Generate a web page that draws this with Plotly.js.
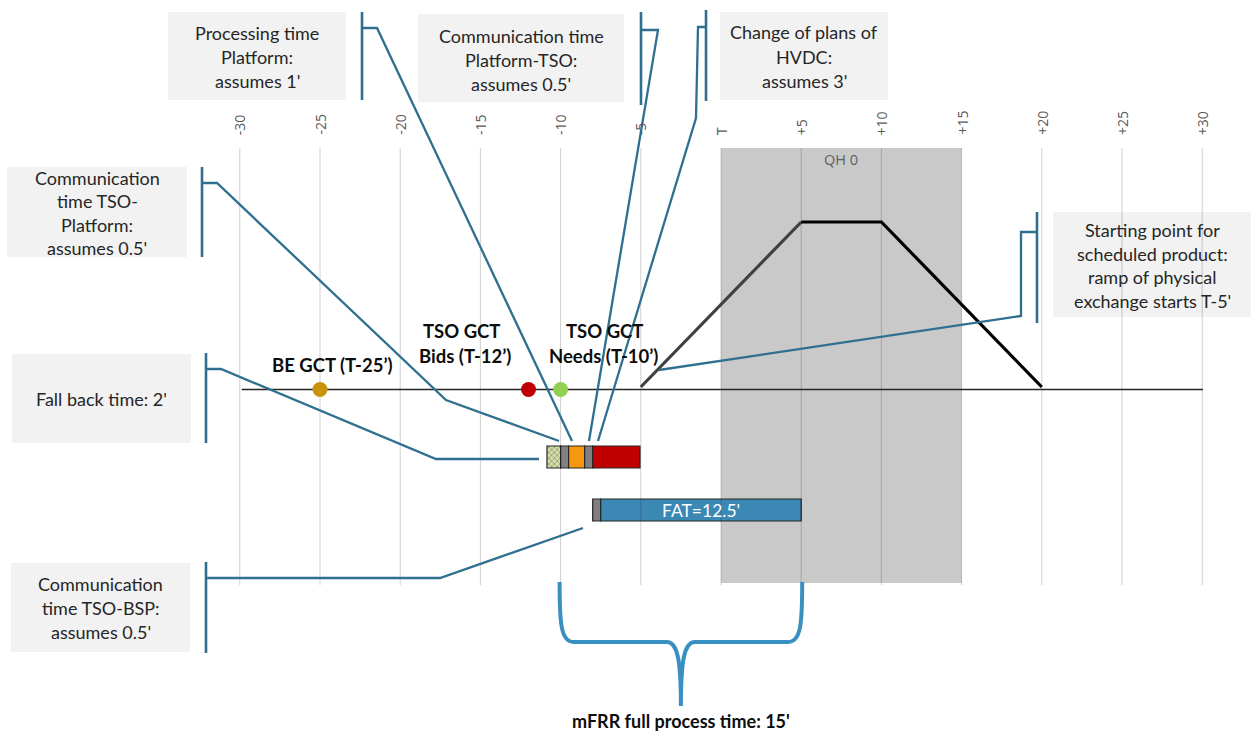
<!DOCTYPE html>
<html><head><meta charset="utf-8">
<script src="https://cdn.plot.ly/plotly-3.0.1.min.js"></script>
<style>html,body{margin:0;padding:0;background:#fff}</style>
</head><body><div id="chart" style="width:1251px;height:733px"></div>
<script>
// ---------------- DATA ----------------
const tickVals = [-30,-25,-20,-15,-10,-5,0,5,10,15,20,25,30];
const tickText = ['-30','-25','-20','-15','-10','-5','T','+5','+10','+15','+20','+25','+30'];

const eventLabels = [['BE GCT (T-25’)'], ['TSO GCT','Bids (T-12’)'], ['TSO GCT','Needs (T-10’)']];
const eventTimes = [-25, -12, -10];
const eventColors = ['#c9940c', '#c00000', '#92d050'];

const stepNames = ['Fall back time', 'Communication TSO-Platform', 'Processing time Platform', 'Communication Platform-TSO', 'Change of plans of HVDC'];
const stepStart = [-10.85, -10, -9.5, -8.5, -8];
const stepEnd   = [-10, -9.5, -8.5, -8, -5.05];
const stepColors = ['#d5e1a6', '#808080', '#f7960f', '#808080', '#c00000'];

const actNames = ['Communication TSO-BSP', "FAT=12.5'"];
const actStart = [-8, -7.5];
const actEnd   = [-7.5, 5];
const actColors = ['#7f7f7f', '#3c88b5'];

const rampTime  = [-5, 5, 10, 20];
const rampLevel = [0, 1, 1, 0];

const qhLabel = 'QH 0';
const qhStart = 0, qhEnd = 15;
const processStart = -10, processEnd = 5;
const processLabel = "mFRR full process time: 15'";

const calloutTexts = [
  ['Processing time', 'Platform:', "assumes 1'"],
  ['Communication time', 'Platform-TSO:', "assumes 0.5'"],
  ['Change of plans of', 'HVDC:', "assumes 3'"],
  ['Communication', 'time TSO-', 'Platform:', "assumes 0.5'"],
  ["Fall back time: 2'"],
  ['Communication', 'time TSO-BSP:', "assumes 0.5'"],
  ['Starting point for', 'scheduled product:', 'ramp of physical', "exchange starts T-5'"]
];

// ---------------- LAYOUT GEOMETRY (pixels) ----------------
const W = 1251, H = 733;
const ZERO_PX = 721, PX_PER_MIN = 16.04;
const GRID_TOP = 148, GRID_BOT = 585;
const BASE_Y = 389.5, RAMP_TOP_Y = 222;
const BAR1_Y = 457, BAR2_Y = 510, BAR_H = 22;

const calloutBoxes = [ // x0,y0,x1,y1, centerY of first line, line step
  {b:[168,12,346,100], cy:33, dy:24},
  {b:[418,14,624,102], cy:36, dy:24},
  {b:[720,12,888,100], cy:32, dy:24.5},
  {b:[7,167,187,257], cy:178, dy:23.3},
  {b:[12,354,191,443], cy:399, dy:24},
  {b:[11,563,190,652], cy:584, dy:24},
  {b:[1053,212,1251,317], cy:230, dy:23.5}
];
const leaders = [
  {bar:[362,12,362,100], path:[[362,28],[377,28],[572,441]]},
  {bar:[641,12,641,105], path:[[641,30],[658,30],[589,441]]},
  {bar:[706,10,706,101], path:[[706,27],[698,27],[696,118],[598,441]]},
  {bar:[202,167,202,257], path:[[202,183],[217,183],[446,400],[559,441]]},
  {bar:[206,353,206,443], path:[[206,369],[221,369],[436,459],[539,459]]},
  {bar:[206,562,206,653], path:[[206,578],[440,578],[583,528]]},
  {bar:[1037,212,1037,323], path:[[1037,232],[1021,232],[1021,316],[659,370]]}
];

// y2 axis range so that level 0 -> just above baseline and level 1 -> RAMP_TOP_Y
const l0 = 387, l1 = RAMP_TOP_Y;
const y2span = H / (l0 - l1);
const y2max = l0 / (l0 - l1);
const y2range = [y2max - y2span, y2max];

const FONT = 'Lato, "Open Sans", sans-serif';
const LEAD = '#2f6f8f';

// ---------------- TRACES ----------------
const traces = [];
traces.push({
  type:'scatter', mode:'lines', hoverinfo:'skip',
  x: tickVals.flatMap(v => [v, v, null]),
  y: tickVals.flatMap(() => [GRID_TOP, GRID_BOT, null]),
  line:{color:'rgba(0,0,0,0.19)', width:1}
});
traces.push({
  type:'scatter', mode:'lines', hoverinfo:'skip',
  x:[tickVals[0]+0.12, tickVals[tickVals.length-1]+0.05], y:[BASE_Y, BASE_Y],
  line:{color:'#262626', width:1.3}
});
traces.push({
  type:'scatter', mode:'lines', yaxis:'y2', hoverinfo:'skip',
  x: rampTime.slice(0,2), y: rampLevel.slice(0,2),
  line:{color:'#404040', width:3.2}
});
traces.push({
  type:'scatter', mode:'lines', yaxis:'y2', hoverinfo:'skip',
  x: rampTime.slice(1), y: rampLevel.slice(1),
  line:{color:'#000000', width:3.2}
});
traces.push({
  type:'scatter', mode:'markers', hoverinfo:'skip',
  x: eventTimes, y: eventTimes.map(() => BASE_Y),
  marker:{size:15, color:eventColors, line:{width:0}}
});
traces.push({
  type:'bar', orientation:'h', hoverinfo:'skip', name:'process',
  y: stepNames.map(() => BAR1_Y), base: stepStart,
  x: stepStart.map((s,i) => stepEnd[i] - s),
  width: stepNames.map(() => BAR_H),
  marker:{color: stepColors, line:{color:'#262626', width:1.2},
    pattern:{shape:['x','','','',''], fgcolor:'#6f7f3f', bgcolor:'#d5e1a6', size:4, solidity:0.35, fillmode:'overlay'}}
});
traces.push({
  type:'bar', orientation:'h', hoverinfo:'skip', name:'activation',
  y: actNames.map(() => BAR2_Y), base: actStart,
  x: actStart.map((s,i) => actEnd[i] - s),
  width: actNames.map(() => BAR_H),
  marker:{color: actColors, line:{color:'#262626', width:1.2}}
});

// ---------------- SHAPES ----------------
const shapes = [];
shapes.push({type:'rect', xref:'x', yref:'y', x0:qhStart, x1:qhEnd, y0:GRID_TOP, y1:583,
  fillcolor:'#c9c9c9', line:{width:0}, layer:'below'});
calloutBoxes.forEach(c => shapes.push({type:'rect', xref:'x2', yref:'y',
  x0:c.b[0], y0:c.b[1], x1:c.b[2], y1:c.b[3], fillcolor:'#f2f2f2', line:{width:0}, layer:'below'}));
leaders.forEach(l => {
  shapes.push({type:'line', xref:'x2', yref:'y', x0:l.bar[0], y0:l.bar[1], x1:l.bar[2], y1:l.bar[3],
    line:{color:LEAD, width:2.6}});
  shapes.push({type:'path', xref:'x2', yref:'y',
    path: l.path.map((p,i) => (i ? 'L' : 'M') + p[0] + ',' + p[1]).join(' '),
    line:{color:LEAD, width:2.3}});
});
// brace spanning full process time
const bx0 = ZERO_PX + processStart*PX_PER_MIN - 1, bx1 = ZERO_PX + processEnd*PX_PER_MIN + 1;
const bm = (bx0 + bx1) / 2;
shapes.push({type:'path', xref:'x2', yref:'y', line:{color:'#3a8fc2', width:4},
  path:`M${bx0},582 C${bx0},622 ${bx0+1},642 ${bx0+14},642 L${bm-14},642 C${bm-3},642 ${bm},662 ${bm},706 ` +
       `C${bm},662 ${bm+3},642 ${bm+14},642 L${bx1-14},642 C${bx1-1},642 ${bx1},622 ${bx1},582`});

// ---------------- ANNOTATIONS ----------------
const ann = [];
tickVals.forEach((v,i) => ann.push({xref:'x', yref:'y', x:v, y:137, text:tickText[i], textangle:-90,
  xanchor:'center', yanchor:'bottom', showarrow:false, font:{family:'"Open Sans", sans-serif', size:14, color:'#595959'}}));
ann.push({xref:'x', yref:'y', x:(qhStart+qhEnd)/2, y:159, text:qhLabel, showarrow:false,
  font:{family:'"Open Sans", sans-serif', size:14.5, color:'#606060'}});

const evPos = [{x:[332], y:[365]}, {x:[461,465], y:[331,356]}, {x:[604,603], y:[331,356]}];
eventLabels.forEach((lines,i) => lines.forEach((t,j) => ann.push({xref:'x2', yref:'y', x:evPos[i].x[j], y:evPos[i].y[j],
  text:'<b>'+t+'</b>', showarrow:false, font:{family:FONT, size:18.5, color:'#0d0d0d'}})));

calloutTexts.forEach((lines,i) => {
  const c = calloutBoxes[i];
  const cx = (c.b[0] + c.b[2]) / 2;
  lines.forEach((t,j) => ann.push({xref:'x2', yref:'y', x:cx, y:c.cy + j*c.dy, text:t, showarrow:false,
    font:{family:FONT, size:18, color:'#262626'}}));
});

ann.push({xref:'x', yref:'y', x:(actStart[1]+actEnd[1])/2, y:BAR2_Y, text:actNames[1], showarrow:false,
  font:{family:FONT, size:17.5, color:'#ffffff'}});
ann.push({xref:'x', yref:'y', x:(processStart+processEnd)/2, y:721, text:'<b>'+processLabel+'</b>', showarrow:false,
  font:{family:FONT, size:18, color:'#0d0d0d'}});

const layout = {
  width:W, height:H, margin:{l:0,r:0,t:0,b:0}, paper_bgcolor:'#fff', plot_bgcolor:'#fff',
  showlegend:false, barmode:'overlay', hovermode:false,
  xaxis:{range:[-ZERO_PX/PX_PER_MIN, (W-ZERO_PX)/PX_PER_MIN], visible:false, fixedrange:true},
  xaxis2:{range:[0,W], overlaying:'x', visible:false, fixedrange:true},
  yaxis:{range:[H,0], visible:false, fixedrange:true},
  yaxis2:{range:y2range, overlaying:'y', visible:false, fixedrange:true},
  shapes:shapes, annotations:ann
};
Plotly.newPlot('chart', traces, layout, {staticPlot:true, displayModeBar:false});
</script></body></html>
